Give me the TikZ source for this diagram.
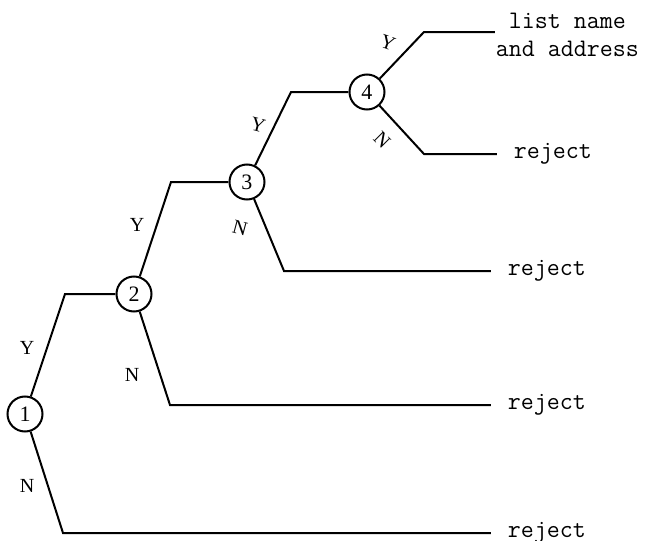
\documentclass[tikz,border=0pt]{standalone}
\usepackage{fontspec}
\setmainfont{Liberation Serif}

\tikzset{
  test/.style={draw, circle, minimum size=17.5pt, inner sep=0pt, font=\fontsize{11}{13}\selectfont},
  outcome/.style={anchor=west, inner xsep=8pt, inner ysep=1pt, font=\ttfamily\fontsize{12.6}{14}\selectfont},
  branch/.style={font=\fontsize{10}{12}\selectfont},
}

\begin{document}
\begin{tikzpicture}[x=0.5pt, y=-0.5pt, line width=1pt]
        \useasboundingbox (0,0) rectangle (645,541);
        \node[test] (t1) at (25,414) {1};
        \node[test] (t2) at (134,294) {2};
        \node[test] (t3) at (247,182) {3};
        \node[test] (t4) at (367,92) {4};
        \coordinate (a1) at (65,294);
        \coordinate (a2) at (171,182);
        \coordinate (a3) at (291,92);
        \coordinate (a4) at (424,32);
        \coordinate (b1) at (63,533);
        \coordinate (b2) at (170,405);
        \coordinate (b3) at (284,271);
        \coordinate (b4) at (424,154);
        \node[outcome] (r1) at (491,533) {reject};
        \node[outcome] (r2) at (491,405) {reject};
        \node[outcome] (r3) at (491,271) {reject};
        \node[outcome] (r4) at (497,154) {reject};
        \node[outcome, inner xsep=0pt, align=center] (list) at (495,35) {list name\\and address};
        \draw (t1) -- (a1) -- (t2);
        \draw (t2) -- (a2) -- (t3);
        \draw (t3) -- (a3) -- (t4);
        \draw (t4) -- (a4) -- (a4 -| list.west);
        \draw (t1) -- (b1) -- (r1.west);
        \draw (t2) -- (b2) -- (r2.west);
        \draw (t3) -- (b3) -- (r3.west);
        \draw (t4) -- (b4) -- (r4.west);
        \node[branch] (y1) at (27,348) {Y};
        \node[branch] (n1) at (27,486) {N};
        \node[branch] (y2) at (137,225) {Y};
        \node[branch] (n2) at (132,375) {N};
        \node[branch, rotate=-15] (y3) at (258,125) {Y};
        \node[branch, rotate=-15] (n3) at (240,228) {N};
        \node[branch, rotate=-20] (y4) at (388,43) {Y};
        \node[branch, rotate=-45] (n4) at (382,140) {N};
    \end{tikzpicture}
\end{document}
